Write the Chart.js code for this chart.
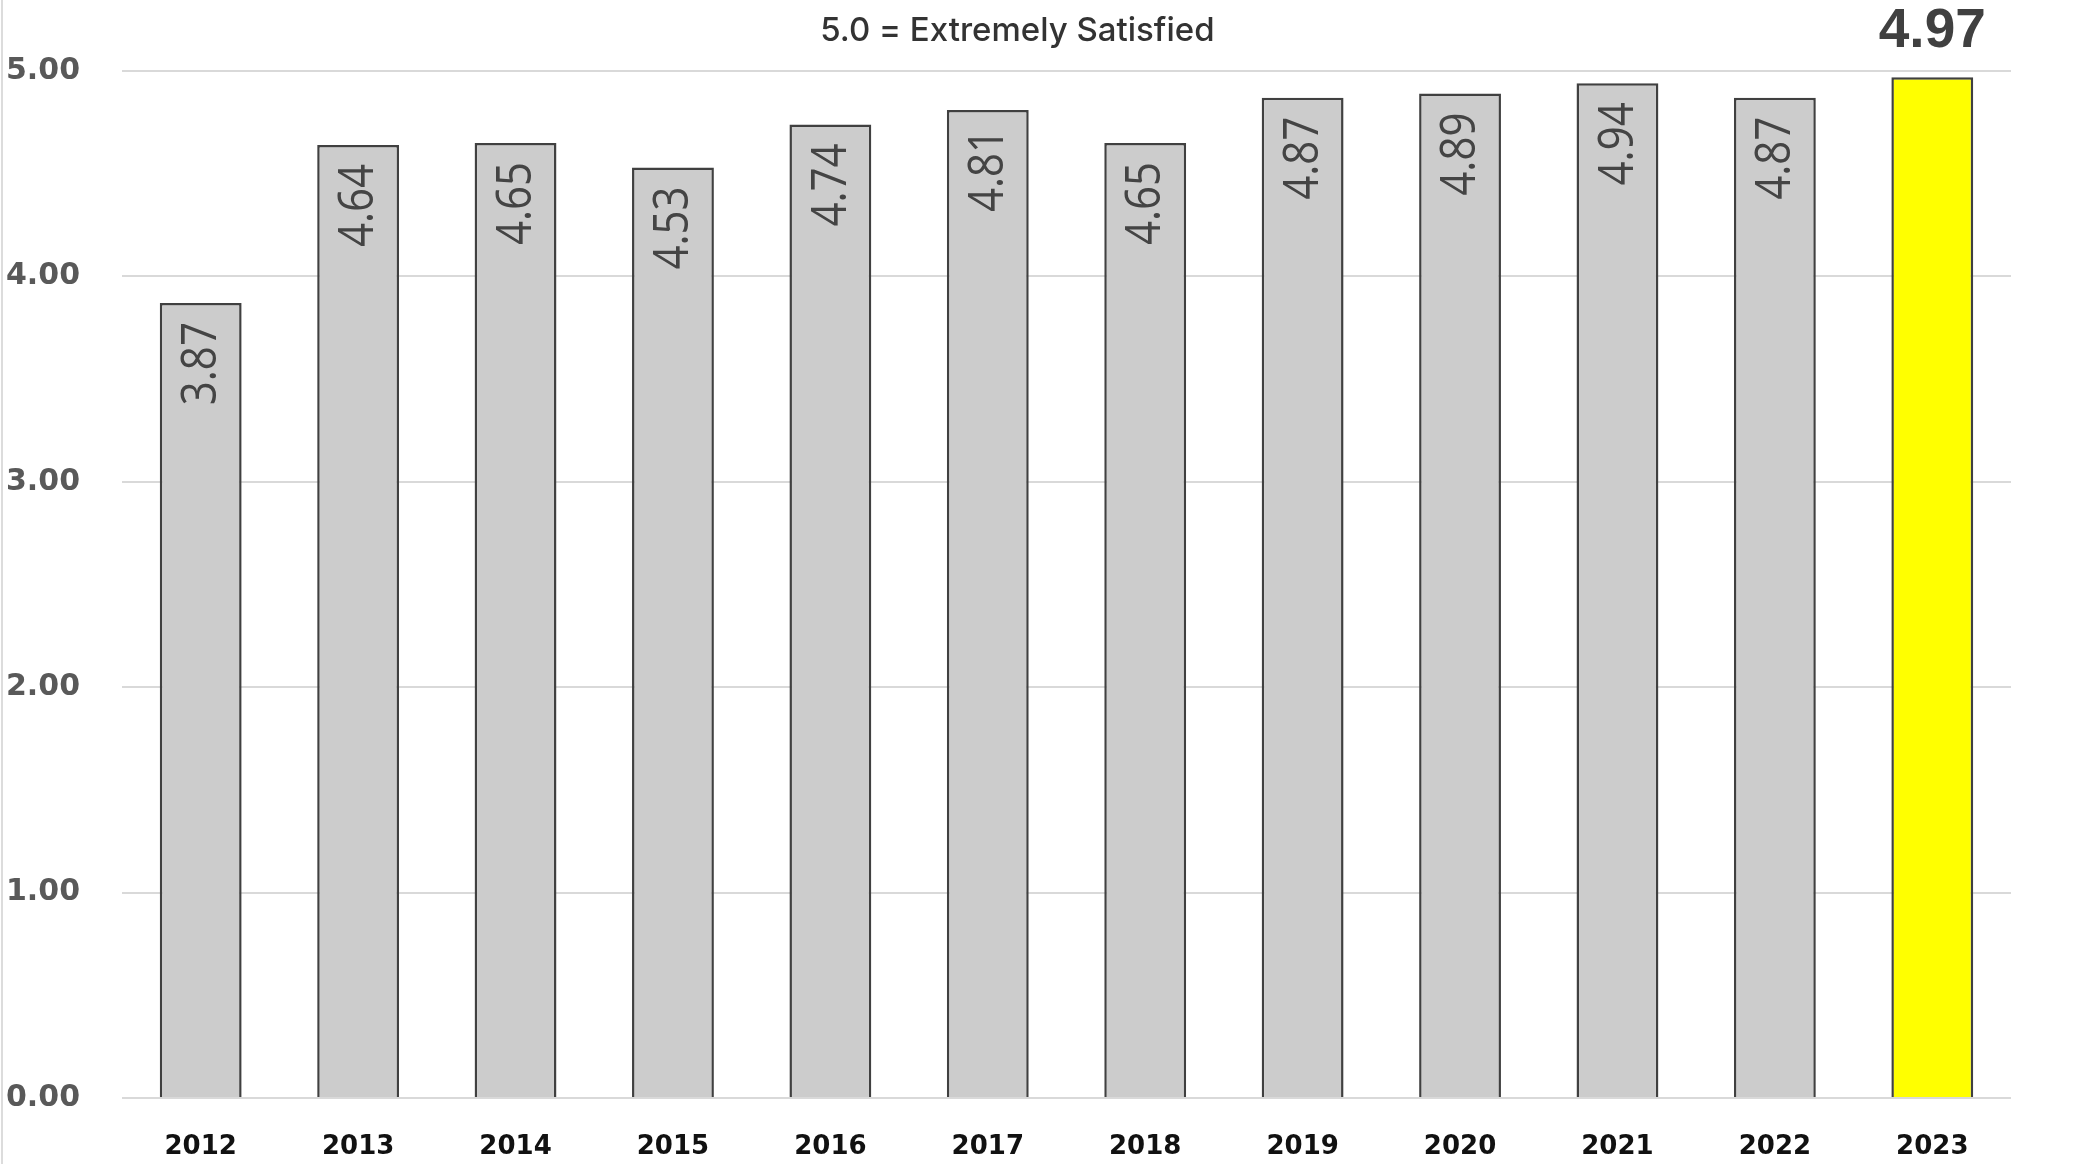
<!DOCTYPE html>
<html>
<head>
<meta charset="utf-8">
<script src="https://cdn.jsdelivr.net/npm/chart.js@4.4.1/dist/chart.umd.min.js"></script>
<style>
    body { margin: 0; background: #fff; }
    #wrap { width: 2087px; height: 1164px; position: relative; }
    #wrap::before { content: ''; position: absolute; left: 1px; top: 0; width: 2px; height: 1164px; background: #dcdcdc; }
    #myChart { position: absolute; left: 0; top: 0; }
</style>
</head>
<body>
<div id="wrap"><canvas id="myChart" width="2087" height="1164"></canvas></div>
<script>
const years = ['2012', '2013', '2014', '2015', '2016', '2017', '2018', '2019', '2020', '2021', '2022', '2023'];
const scores = [3.87, 4.64, 4.65, 4.53, 4.74, 4.81, 4.65, 4.87, 4.89, 4.94, 4.87, 4.97];
const yTicks = [0, 1, 2, 3, 4, 5];
const chartTitle = '5.0 = Extremely Satisfied';

const last = scores.length - 1;

// draws the title and the value labels (rotated inside bars, bold above the last one)
const labelPlugin = {
    id: 'labels',
    afterDatasetsDraw(chart) {
        const ctx = chart.ctx;
        const area = chart.chartArea;
        ctx.save();
        ctx.fillStyle = '#333333';
        ctx.font = '500 33px Inter';
        ctx.textAlign = 'center';
        ctx.textBaseline = 'middle';
        ctx.fillText(chartTitle, area.left + (area.right - area.left) * 0.474, 31);

        const meta = chart.getDatasetMeta(0);
        meta.data.forEach((bar, i) => {
            const txt = scores[i].toFixed(2);
            if (i === last) {
                ctx.fillStyle = '#404040';
                ctx.font = 'bold 55px "Liberation Sans"';
                ctx.textAlign = 'center';
                ctx.textBaseline = 'middle';
                ctx.fillText(txt, bar.x, bar.y - 45);
            } else {
                ctx.save();
                ctx.translate(bar.x + 1, bar.y + 19);
                ctx.rotate(-Math.PI / 2);
                ctx.scale(0.84, 1);
                ctx.fillStyle = '#444444';
                ctx.font = '50px "Open Sans"';
                ctx.textAlign = 'right';
                ctx.textBaseline = 'middle';
                ctx.fillText(txt, 0, 0);
                ctx.restore();
            }
        });
        ctx.restore();
    }
};

const ctx = document.getElementById('myChart');

const data = {
    labels: years,
    datasets: [
        {
            data: scores,
            backgroundColor: scores.map((v, i) => i === last ? '#ffff00' : '#cccccc'),
            borderColor: '#404040',
            borderWidth: 2.5,
            borderSkipped: 'bottom',
            categoryPercentage: 1.0,
            barPercentage: 0.52,
        }
    ]
};

const config = {
    type: 'bar',
    data: data,
    plugins: [labelPlugin],
    options: {
        responsive: false,
        animation: false,
        layout: {
            padding: { top: 71, right: 76, left: 6, bottom: 0 }
        },
        plugins: {
            legend: { display: false },
            tooltip: { enabled: false },
            title: { display: false }
        },
        scales: {
            x: {
                grid: { display: false, drawTicks: false },
                border: { display: false },
                ticks: {
                    color: '#111111',
                    padding: 34,
                    font: { family: 'DejaVu Sans', weight: 'bold', size: 26 }
                },
                afterFit(scale) { scale.height = 66; }
            },
            y: {
                min: 0,
                max: 5,
                afterBuildTicks(scale) { scale.ticks = yTicks.map(v => ({ value: v })); },
                grid: { color: '#d9d9d9', lineWidth: 2, drawTicks: false },
                border: { display: false },
                ticks: {
                    color: '#595959',
                    crossAlign: 'far',
                    font: { family: 'DejaVu Sans', weight: 'bold', size: 30 },
                    callback: (v) => Number(v).toFixed(2)
                },
                afterFit(scale) { scale.width = 116; }
            }
        }
    }
};

var chart = new Chart(ctx, config);
</script>
</body>
</html>
